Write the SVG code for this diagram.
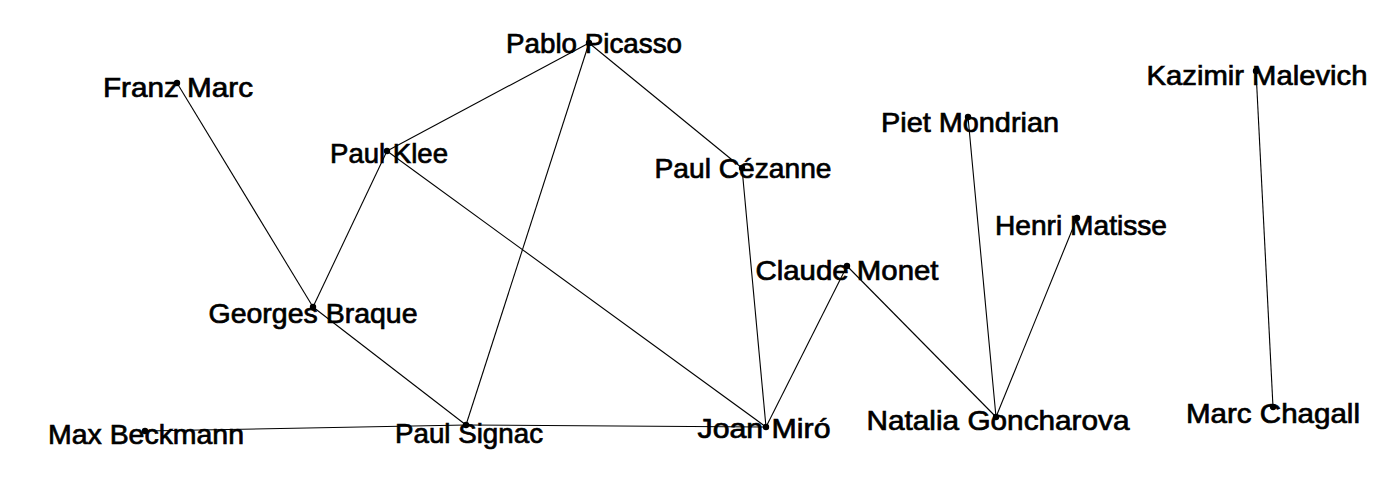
<svg xmlns="http://www.w3.org/2000/svg" width="1397" height="477" viewBox="0 0 1397 477">
<style>
.e{stroke:#000;stroke-width:1.1;fill:none}
.d{fill:#000}
.t{font-family:"Liberation Sans",Arial,sans-serif;font-size:28px;fill:#000;stroke:#000;stroke-width:0.7;text-anchor:middle}
</style>
<rect width="1397" height="477" fill="#fff"/>
<g id="connectors">
<line class="e" x1="177" y1="83" x2="313" y2="307"/>
<line class="e" x1="387" y1="151" x2="313" y2="307"/>
<line class="e" x1="387" y1="151" x2="589" y2="43"/>
<line class="e" x1="387" y1="151" x2="766" y2="427"/>
<line class="e" x1="589" y1="43" x2="466" y2="425"/>
<line class="e" x1="589" y1="43" x2="742" y2="168"/>
<line class="e" x1="742" y1="168" x2="766" y2="427"/>
<line class="e" x1="313" y1="307" x2="466" y2="425"/>
<line class="e" x1="145" y1="431" x2="466" y2="425"/>
<line class="e" x1="466" y1="425" x2="766" y2="427"/>
<line class="e" x1="766" y1="427" x2="847" y2="266"/>
<line class="e" x1="847" y1="266" x2="996" y2="417"/>
<line class="e" x1="968" y1="117" x2="996" y2="417"/>
<line class="e" x1="1077" y1="218" x2="996" y2="417"/>
<line class="e" x1="1256" y1="71" x2="1273" y2="407"/>
</g>
<g id="pablo-picasso"><circle class="d" cx="589" cy="43" r="3.2"/><text class="t" x="594" y="53" textLength="176" lengthAdjust="spacingAndGlyphs">Pablo Picasso</text></g>
<g id="franz-marc"><circle class="d" cx="177" cy="83" r="3.2"/><text class="t" x="178" y="97" textLength="150" lengthAdjust="spacingAndGlyphs">Franz Marc</text></g>
<g id="paul-klee"><circle class="d" cx="387" cy="151" r="3.2"/><text class="t" x="389" y="163" textLength="118" lengthAdjust="spacingAndGlyphs">Paul Klee</text></g>
<g id="paul-cezanne"><circle class="d" cx="742" cy="168" r="3.2"/><text class="t" x="743" y="178" textLength="177" lengthAdjust="spacingAndGlyphs">Paul Cézanne</text></g>
<g id="piet-mondrian"><circle class="d" cx="968" cy="117" r="3.2"/><text class="t" x="970" y="132" textLength="178" lengthAdjust="spacingAndGlyphs">Piet Mondrian</text></g>
<g id="kazimir-malevich"><circle class="d" cx="1256" cy="71" r="3.2"/><text class="t" x="1257" y="85" textLength="221" lengthAdjust="spacingAndGlyphs">Kazimir Malevich</text></g>
<g id="henri-matisse"><circle class="d" cx="1077" cy="218" r="3.2"/><text class="t" x="1081" y="235" textLength="172" lengthAdjust="spacingAndGlyphs">Henri Matisse</text></g>
<g id="claude-monet"><circle class="d" cx="847" cy="266" r="3.2"/><text class="t" x="847" y="280" textLength="183" lengthAdjust="spacingAndGlyphs">Claude Monet</text></g>
<g id="georges-braque"><circle class="d" cx="313" cy="307" r="3.2"/><text class="t" x="313" y="323" textLength="209" lengthAdjust="spacingAndGlyphs">Georges Braque</text></g>
<g id="max-beckmann"><circle class="d" cx="145" cy="431" r="3.2"/><text class="t" x="146" y="444" textLength="196" lengthAdjust="spacingAndGlyphs">Max Beckmann</text></g>
<g id="paul-signac"><circle class="d" cx="466" cy="425" r="3.2"/><text class="t" x="469" y="443" textLength="148" lengthAdjust="spacingAndGlyphs">Paul Signac</text></g>
<g id="joan-miro"><circle class="d" cx="766" cy="427" r="3.2"/><text class="t" x="764" y="438" textLength="133" lengthAdjust="spacingAndGlyphs">Joan Miró</text></g>
<g id="natalia-goncharova"><circle class="d" cx="996" cy="417" r="3.2"/><text class="t" x="998" y="430" textLength="263" lengthAdjust="spacingAndGlyphs">Natalia Goncharova</text></g>
<g id="marc-chagall"><circle class="d" cx="1273" cy="407" r="3.2"/><text class="t" x="1273" y="423" textLength="174" lengthAdjust="spacingAndGlyphs">Marc Chagall</text></g>
</svg>
